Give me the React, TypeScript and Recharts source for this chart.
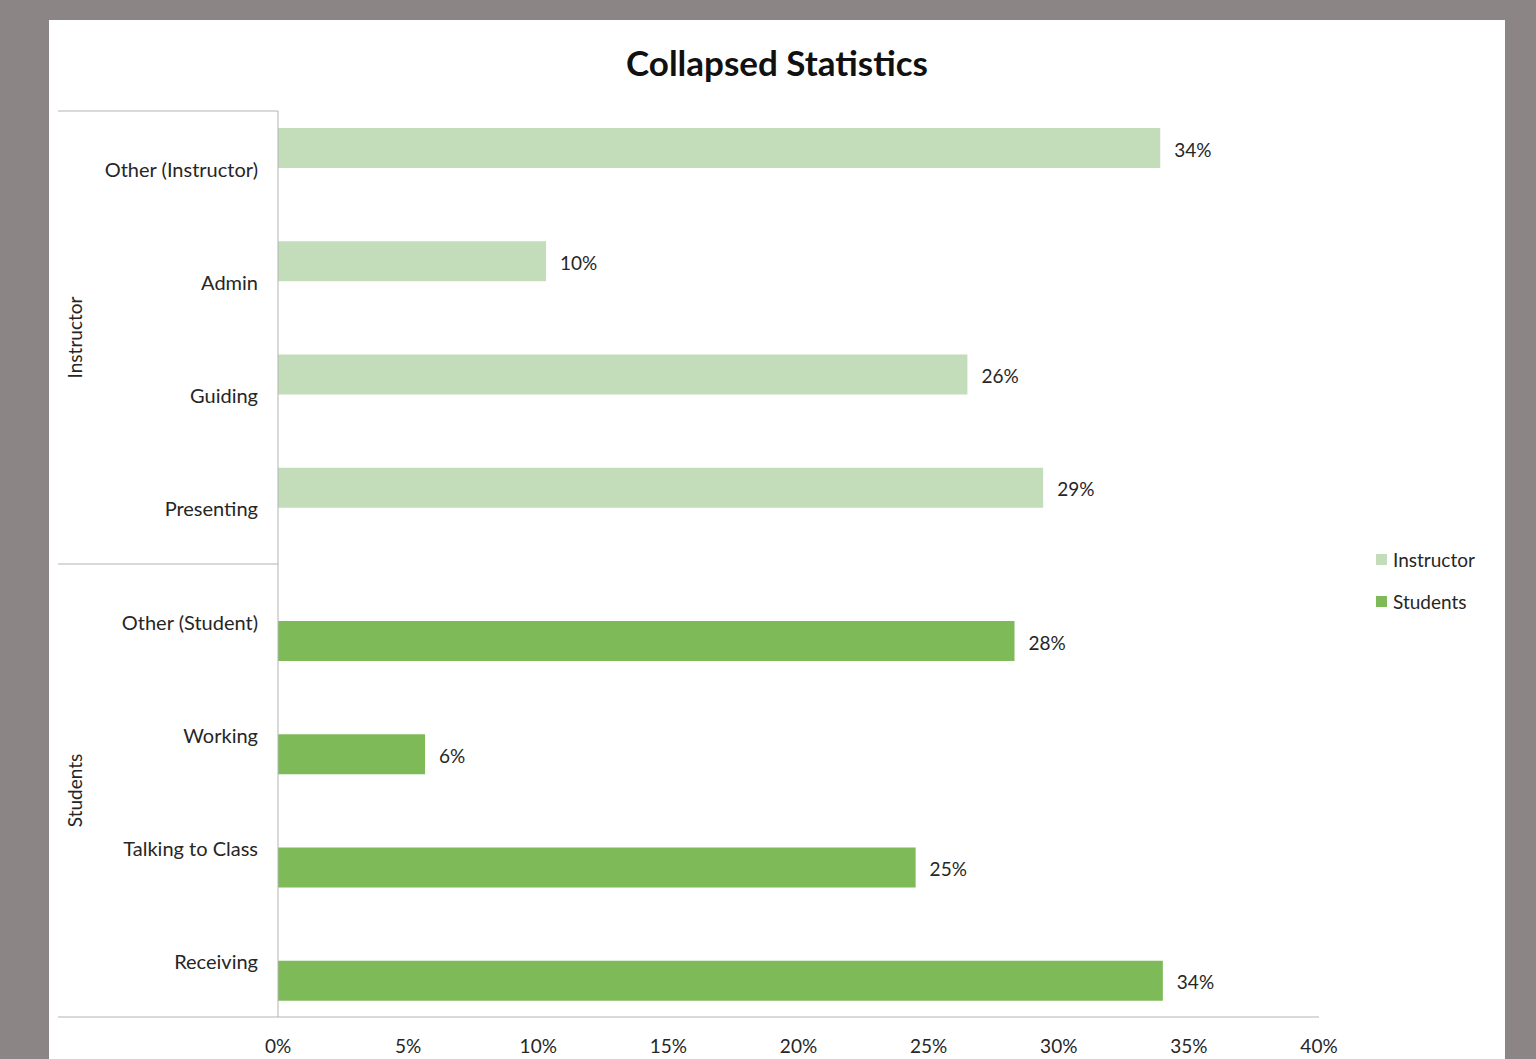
import { BarChart, Bar, XAxis, YAxis, LabelList, Legend } from "recharts";

const categories = [
  "Other (Instructor)",
  "Admin",
  "Guiding",
  "Presenting",
  "Other (Student)",
  "Working",
  "Talking to Class",
  "Receiving",
];
const groups = [
  "Instructor",
  "Instructor",
  "Instructor",
  "Instructor",
  "Students",
  "Students",
  "Students",
  "Students",
];
const instructorValues = [33.9, 10.3, 26.49, 29.4, null, null, null, null];
const studentValues = [null, null, null, null, 28.3, 5.65, 24.5, 34.0];
const xTicks = [0, 5, 10, 15, 20, 25, 30, 35, 40];

const FONT = "Lato, 'Open Sans', sans-serif";
const TEXT = "#262626";
const AXIS = "#b3b3b3";
const LIGHT = "#c3dcba";
const DARK = "#7eba58";
const TICK_GAP = 20;
const AXIS_LEFT = 58;

const data = categories.map((name, i) => ({
  name,
  group: groups[i],
  instructor: instructorValues[i],
  students: studentValues[i],
}));

const pct = (v: any) => (v == null ? "" : `${Math.round(Number(v))}%`);

function CategoryTick(props: any) {
  const { x, y, payload } = props;
  const idx = props.index ?? categories.indexOf(payload.value);
  const half = payload.offset ?? 56.6;
  const axisX = x + TICK_GAP;
  return (
    <g>
      <text
        x={x}
        y={y}
        dy={9}
        textAnchor="end"
        fill={TEXT}
        fontSize={20}
        fontFamily={FONT}
      >
        {payload.value}
      </text>
      {idx % 4 === 0 && (
        <line x1={AXIS_LEFT} x2={axisX} y1={y - half} y2={y - half} stroke={AXIS} strokeWidth={1} />
      )}
      {idx === categories.length - 1 && (
        <line x1={AXIS_LEFT} x2={axisX} y1={y + half} y2={y + half} stroke={AXIS} strokeWidth={1} />
      )}
      {idx % 4 === 1 && (
        <text
          transform={`translate(${AXIS_LEFT + 24}, ${y + half}) rotate(-90)`}
          textAnchor="middle"
          fill={TEXT}
          fontSize={19}
          fontFamily={FONT}
        >
          {groups[idx]}
        </text>
      )}
    </g>
  );
}

function LegendBox() {
  const items = [
    { name: "Instructor", color: LIGHT },
    { name: "Students", color: DARK },
  ];
  return (
    <div style={{ fontFamily: FONT, fontSize: 19, color: TEXT }}>
      {items.map((it) => (
        <div key={it.name} style={{ display: "flex", alignItems: "center", height: 42 }}>
          <span style={{ width: 11, height: 11, background: it.color, marginRight: 6, display: "inline-block" }} />
          {it.name}
        </div>
      ))}
    </div>
  );
}

export default function App() {
  return (
    <div
      style={{
        position: "absolute",
        left: 0,
        top: 0,
        width: 1536,
        height: 1059,
        background: "#8b8685",
        overflow: "hidden",
      }}
    >
      <div
        style={{
          position: "absolute",
          left: 49,
          top: 20,
          width: 1456,
          height: 1039,
          background: "#ffffff",
        }}
      />
      <div
        style={{
          position: "absolute",
          left: 0,
          top: 41,
          width: 1554,
          textAlign: "center",
          fontFamily: FONT,
          fontWeight: 700,
          fontSize: 35,
          color: "#111",
        }}
      >
        Collapsed Statistics
      </div>
      <div style={{ position: "absolute", left: 0, top: 0 }}>
        <BarChart
          width={1536}
          height={1059}
          data={data}
          layout="vertical"
          margin={{ top: 111, right: 217, bottom: 0, left: AXIS_LEFT }}
          barGap={0}
        >
          <XAxis
            type="number"
            domain={[0, 40]}
            ticks={xTicks}
            tickFormatter={(v) => `${v}%`}
            tickLine={false}
            tickSize={0}
            tickMargin={23}
            height={42}
            axisLine={{ stroke: AXIS }}
            tick={{ fill: TEXT, fontSize: 19, fontFamily: FONT }}
          />
          <YAxis
            type="category"
            dataKey="name"
            width={220}
            interval={0}
            tickLine={false}
            tickSize={0}
            tickMargin={TICK_GAP}
            axisLine={{ stroke: AXIS }}
            tick={<CategoryTick />}
          />
          <Legend
            layout="vertical"
            align="center"
            verticalAlign="middle"
            content={<LegendBox />}
            wrapperStyle={{ left: 1376, top: 538, width: 130, height: 84 }}
          />
          <Bar dataKey="instructor" name="Instructor" fill={LIGHT} barSize={40} isAnimationActive={false}>
            <LabelList
              dataKey="instructor"
              position="right"
              offset={14}
              formatter={pct}
              style={{ fill: TEXT, fontSize: 19, fontFamily: FONT, transform: "translateY(2px)" }}
            />
          </Bar>
          <Bar dataKey="students" name="Students" fill={DARK} barSize={40} isAnimationActive={false}>
            <LabelList
              dataKey="students"
              position="right"
              offset={14}
              formatter={pct}
              style={{ fill: TEXT, fontSize: 19, fontFamily: FONT, transform: "translateY(2px)" }}
            />
          </Bar>
        </BarChart>
      </div>
    </div>
  );
}
